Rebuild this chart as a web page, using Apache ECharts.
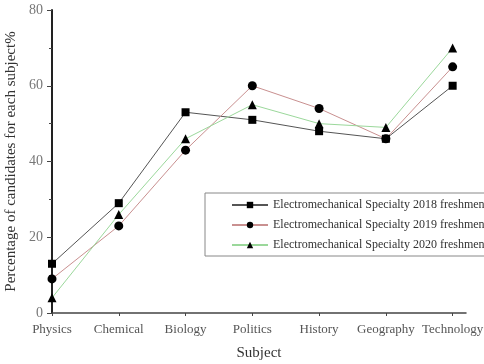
<!DOCTYPE html>
<html><head><meta charset="utf-8">
<script src="https://cdn.jsdelivr.net/npm/echarts@6/dist/echarts.min.js"></script>
<style>html,body{margin:0;padding:0;background:#fff}#c{width:484px;height:364px}</style>
</head><body><div id="c"></div>
<script>
const categories = ['Physics','Chemical','Biology','Politics','History','Geography','Technology'];
const yTicks = [0,20,40,60,80];
const names = ['Electromechanical Specialty 2018 freshmen','Electromechanical Specialty 2019 freshmen','Electromechanical Specialty 2020 freshmen'];
const s2018 = [13,29,53,51,48,46,60];
const s2019 = [9,23,43,60,54,46,65];
const s2020 = [4,26,46,55,50,49,70];

const font = 'Liberation Serif';
const toPts = arr => arr.map((v,i)=>[i,v]);
const chart = echarts.init(document.getElementById('c'));
chart.setOption({
  animation:false,
  backgroundColor:'#fff',
  textStyle:{fontFamily:font},
  grid:{left:52,right:18,top:10,bottom:51,containLabel:false,outerBoundsMode:'none'},
  legend:{
    orient:'vertical', left:205, top:193, width:300,
    padding:[6,6,5,26], itemGap:8, itemWidth:36, itemHeight:8,
    borderColor:'#888', borderWidth:1, backgroundColor:'#fff',
    textStyle:{fontFamily:font,fontSize:12,color:'#333'},
    data:names
  },
  xAxis:{
    type:'value', min:0, max:6.2, interval:1,
    name:'Subject', nameLocation:'middle', nameGap:33,
    nameTextStyle:{fontFamily:font,fontSize:15,color:'#333'},
    splitLine:{show:false},
    axisLine:{show:true,lineStyle:{color:'#444',width:1.5}},
    axisTick:{show:true,length:3,customValues:categories.map((c,i)=>i),lineStyle:{color:'#444'}},
    axisLabel:{customValues:categories.map((c,i)=>i),formatter:v=>categories[Math.round(v)]||'',fontFamily:font,fontSize:13,color:'#555',margin:10}
  },
  yAxis:{
    type:'value', min:0, max:80, interval:20,
    name:'Percentage of candidates for each subject%', nameLocation:'middle', nameGap:29,
    nameTextStyle:{fontFamily:font,fontSize:15,color:'#333'},
    splitLine:{show:false},
    axisLine:{show:true,lineStyle:{color:'#222',width:2}},
    axisTick:{show:true,length:5,lineStyle:{color:'#444'}},
    minorTick:{show:true,splitNumber:2,length:3,lineStyle:{color:'#444'}},
    axisLabel:{formatter:v=>yTicks.includes(v)?String(v):'',fontFamily:font,fontSize:14,color:'#777',margin:9}
  },
  series:[
    {name:names[0],type:'line',data:toPts(s2018),symbol:'rect',symbolSize:8,
     itemStyle:{color:'#000'},lineStyle:{color:'#555',width:1,type:'solid'},z:3},
    {name:names[1],type:'line',data:toPts(s2019),symbol:'circle',symbolSize:9,
     itemStyle:{color:'#000'},lineStyle:{color:'#c99090',width:1},z:3},
    {name:names[2],type:'line',data:toPts(s2020),symbol:'triangle',symbolSize:9,
     itemStyle:{color:'#000'},lineStyle:{color:'#9bd89b',width:1},z:3}
  ]
});
</script></body></html>
